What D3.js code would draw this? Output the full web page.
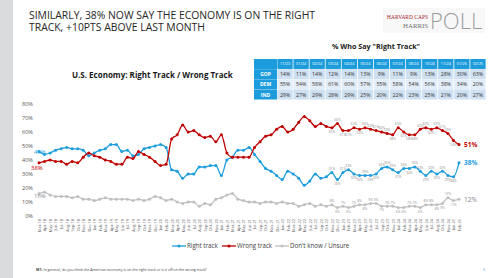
<!DOCTYPE html>
<html>
<head>
<meta charset="utf-8">
<script src="https://cdn.jsdelivr.net/npm/d3@7"></script>
<style>
  body { margin: 0; background: #fff; }
  svg { display: block; font-family: "Open Sans", sans-serif; }
</style>
</head>
<body>
<div class="chart"></div>
<script>
// months polled (some months skipped)
const months = [
  'Mar-18','Apr-18','May-18','Jun-18','Jul-18','Aug-18','Sep-18','Oct-18','Nov-18','Dec-18',
  'Jan-19','Feb-19','Mar-19','Apr-19','May-19','Jun-19','Jul-19','Aug-19','Sep-19','Oct-19','Nov-19','Dec-19',
  'Jan-20','Feb-20','Mar-20','Apr-20','May-20','Jun-20','Jul-20','Aug-20','Sep-20','Oct-20','Nov-20',
  'Jan-21','Feb-21','Mar-21','Apr-21','May-21','Jun-21','Jul-21','Sep-21','Oct-21','Nov-21','Dec-21',
  'Jan-22','Feb-22','Mar-22','Apr-22','May-22','Jun-22','Jul-22','Sep-22','Oct-22','Nov-22','Dec-22',
  'Jan-23','Feb-23','Mar-23','Apr-23','May-23','Jun-23','Jul-23','Sep-23','Oct-23','Nov-23',
  'Jan-24','Feb-24','Mar-24','Apr-24','May-24','Jun-24','Jul-24','Aug-24','Oct-24','Nov-24',
  'Jan-25','Feb-25'
];
const rightTrack = [
  46,44,45,47,48,49,48,48,47,43,
  45,47,48,51,51,46,47,43,44,48,49,50,
  51,49,33,32,27,30,30,35,35,36,36,
  29,40,42,47,47,49,44,39,34,32,29,
  26,32,30,27,22,25,30,27,28,31,26,
  31,33,30,29,29,29,30,34,35,33,
  31,34,34,35,32,29,32,30,32,29,
  28,38
];
const wrongTrack = [
  38,39,40,39,39,37,39,38,42,45,
  43,42,40,39,37,37,42,41,46,44,42,39,
  36,37,55,58,65,60,61,58,56,57,53,
  58,45,42,42,42,42,49,53,57,58,62,
  64,60,62,67,71,68,64,66,64,63,66,
  61,61,63,62,63,62,61,60,59,58,
  63,60,58,58,62,63,62,63,61,59,
  54,51
];
const unsure = [
  16,17,15,14,14,14,13,14,12,12,
  11,12,13,12,12,12,12,11,12,11,12,14,
  13,11,12,10,9,10,10,7,9,8,12,
  13,15,16,12,11,10,10,9,10,10,9,
  10,9,9,7,8,9,7,8,7,8,6,
  7,6,7,8,8,9,9,7,7,7,
  6,6,7,7,6,8,8,8,9,13,
  11,12
];
const yTicks = [0, 10, 20, 30, 40, 50, 60, 70, 80];

// table data
const tableCols = ['11/23','01/24','02/24','03/24','04/24','05/24','06/24','07/24','08/24','10/24','11/24','01/25','02/25'];
const tableRows = ['GOP', 'DEM', 'IND'];
const gopVals = [14, 11, 14, 12, 14, 13, 9, 11, 9, 13, 28, 30, 63];
const demVals = [55, 54, 58, 61, 60, 57, 55, 58, 54, 56, 38, 34, 20];
const indVals = [29, 27, 29, 28, 29, 25, 20, 22, 23, 25, 21, 20, 27];

const width = 495, height = 278;
const blue = '#1c9cdc', red = '#c00000', grey = '#bfbfbf';

let svg = d3.select('.chart')
    .append('svg')
    .attr('width', width)
    .attr('height', height);

// left sidebar
svg.append('rect').attr('x', 0).attr('y', 0).attr('width', 13).attr('height', height).attr('fill', '#dadbdc');

// title
let title = svg.append('text')
    .attr('x', 29).attr('y', 19)
    .attr('font-size', 10.4)
    .attr('fill', '#262626');
title.append('tspan').attr('x', 29).attr('dy', 0).text('SIMILARLY, 38% NOW SAY THE ECONOMY IS ON THE RIGHT');
title.append('tspan').attr('x', 29).attr('dy', 12.3).text('TRACK, +10PTS ABOVE LAST MONTH');

// logo
let logo = svg.append('g');
logo.append('rect').attr('x', 383).attr('y', 8).attr('width', 102).attr('height', 25).attr('fill', '#f8f8f8');
logo.append('text').attr('x', 387).attr('y', 18.5)
    .attr('font-family', 'Liberation Serif, serif').attr('font-size', 5.4)
    .attr('textLength', 41).attr('fill', '#a6192e').text('HARVARD CAPS');
logo.append('text').attr('x', 428).attr('y', 27.5).attr('text-anchor', 'end')
    .attr('font-family', 'Liberation Serif, serif').attr('font-size', 6.8)
    .attr('fill', '#6d6e71').text('HARRIS');
logo.append('text').attr('x', 430).attr('y', 29)
    .attr('font-size', 22).attr('font-weight', 300)
    .attr('fill', '#9a9b9d').text('POLL');

// table
svg.append('text')
    .attr('x', 376).attr('y', 49)
    .attr('text-anchor', 'middle')
    .attr('font-size', 7.2).attr('font-weight', 'bold')
    .attr('fill', '#1a1a1a')
    .text('% Who Say "Right Track"');

let colW = (486 - 277) / tableCols.length;
let colX = i => 277 + i * colW;
let ty = d3.scaleBand().domain(['head', ...tableRows]).range([59, 99.5]).paddingInner(0.02);
let rowData = { GOP: gopVals, DEM: demVals, IND: indVals };

let table = svg.append('g');
// header
table.append('rect').attr('x', 254).attr('y', ty('head')).attr('width', 23).attr('height', ty.bandwidth()).attr('fill', blue);
tableCols.forEach((c, i) => {
    table.append('rect').attr('x', colX(i) + 0.4).attr('y', ty('head'))
        .attr('width', colW - 0.8).attr('height', ty.bandwidth()).attr('fill', blue);
    table.append('text').attr('x', colX(i) + colW / 2).attr('y', ty('head') + ty.bandwidth() / 2 + 1.5)
        .attr('text-anchor', 'middle').attr('font-size', 3.8).attr('fill', '#fff').text(c);
});
tableRows.forEach((r, ri) => {
    table.append('rect').attr('x', 254).attr('y', ty(r)).attr('width', 23).attr('height', ty.bandwidth()).attr('fill', blue);
    table.append('text').attr('x', 265.5).attr('y', ty(r) + ty.bandwidth() / 2 + 2)
        .attr('text-anchor', 'middle').attr('font-size', 5).attr('font-weight', 'bold')
        .attr('fill', '#fff').text(r);
    rowData[r].forEach((v, i) => {
        table.append('rect').attr('x', colX(i) + 0.4).attr('y', ty(r))
            .attr('width', colW - 0.8).attr('height', ty.bandwidth())
            .attr('fill', ri % 2 === 0 ? '#cfe0f1' : '#e3edf7');
        table.append('text').attr('x', colX(i) + colW / 2).attr('y', ty(r) + ty.bandwidth() / 2 + 2)
            .attr('text-anchor', 'middle').attr('font-size', 5.2).attr('fill', '#333').text(v + '%');
    });
});

// chart subtitle
svg.append('text')
    .attr('x', 72).attr('y', 78)
    .attr('font-size', 8).attr('font-weight', 'bold')
    .attr('fill', '#1a1a1a')
    .text('U.S. Economy: Right Track / Wrong Track');

// scales
let x_scale = d3.scalePoint().domain(months).range([39, 459]);
let y_scale = d3.scaleLinear().domain([0, 80]).range([216, 104]);

let y_Axis = d3.axisLeft(y_scale).tickValues(yTicks).tickFormat(d => d + '%').tickSize(0).tickPadding(0);
let yg = svg.append('g').attr('transform', 'translate(33,0)').call(y_Axis);
yg.select('.domain').remove();
yg.selectAll('text').attr('font-size', 5.6).attr('fill', '#595959').attr('font-family', 'Open Sans, sans-serif');

let x_Axis = d3.axisBottom(x_scale).tickSize(0).tickPadding(0);
let xg = svg.append('g').attr('transform', 'translate(0,218)').call(x_Axis);
xg.select('.domain').remove();
xg.selectAll('text')
    .attr('font-size', 3.9)
    .attr('fill', '#595959')
    .attr('font-family', 'Open Sans, sans-serif')
    .attr('text-anchor', 'end')
    .attr('dy', '0.35em')
    .attr('transform', 'rotate(-90)')
    .attr('x', -1).attr('y', 0);

// series
let series = [
    { key: 'Right track', values: rightTrack, color: blue },
    { key: 'Wrong track', values: wrongTrack, color: red },
    { key: "Don't know / Unsure", values: unsure, color: grey }
];
let line = d3.line()
    .x((d, i) => x_scale(months[i]))
    .y(d => y_scale(d))
    .curve(d3.curveMonotoneX);

series.forEach(s => {
    let g = svg.append('g');
    g.append('path').attr('d', line(s.values))
        .attr('fill', 'none').attr('stroke', s.color).attr('stroke-width', 1.3);
    g.selectAll('circle').data(s.values).join('circle')
        .attr('cx', (d, i) => x_scale(months[i]))
        .attr('cy', d => y_scale(d))
        .attr('r', 1.5)
        .attr('fill', s.color);
});

// start labels
svg.append('text').attr('x', 34).attr('y', y_scale(rightTrack[0]) + 2).attr('font-size', 6)
    .attr('fill', blue).text(rightTrack[0] + '%');
svg.append('text').attr('x', 31).attr('y', y_scale(wrongTrack[0]) + 7.5).attr('font-size', 6)
    .attr('fill', red).text(wrongTrack[0] + '%');
svg.append('text').attr('x', 34).attr('y', y_scale(unsure[0]) + 4).attr('font-size', 6)
    .attr('fill', '#8c8c8c').text(unsure[0] + '%');

// end labels
let last = months.length - 1;
let endX = x_scale(months[last]) + 5;
svg.append('text').attr('x', endX).attr('y', y_scale(wrongTrack[last]) + 2.5).attr('font-size', 6.5)
    .attr('font-weight', 'bold').attr('fill', red).text(wrongTrack[last] + '%');
svg.append('text').attr('x', endX).attr('y', y_scale(rightTrack[last]) + 2.5).attr('font-size', 6.5)
    .attr('font-weight', 'bold').attr('fill', blue).text(rightTrack[last] + '%');
svg.append('text').attr('x', endX).attr('y', y_scale(unsure[last]) + 2.5).attr('font-size', 6.5)
    .attr('fill', '#7f7f7f').text(unsure[last] + '%');

// small point labels over the last two years
let labelFrom = 53;
series.forEach(s => {
    for (let i = labelFrom; i < last; i++) {
        let v = s.values[i];
        let nb = (s.values[i - 1] + s.values[i + 1]) / 2;
        let above = v >= nb;
        svg.append('text')
            .attr('x', x_scale(months[i]))
            .attr('y', y_scale(v) + (above ? -2.6 : 5.2))
            .attr('text-anchor', 'middle')
            .attr('font-size', 3.2)
            .attr('fill', '#8c8c8c')
            .text(v + '%');
    }
});

// legend
let legend = svg.append('g').attr('transform', 'translate(0,246)');
let legX = [172, 222, 275];
series.forEach((s, i) => {
    let g = legend.append('g').attr('transform', `translate(${legX[i]},0)`);
    g.append('line').attr('x1', 0).attr('x2', 14).attr('y1', 0).attr('y2', 0)
        .attr('stroke', s.color).attr('stroke-width', 1.3);
    g.append('circle').attr('cx', 7).attr('cy', 0).attr('r', 1.5).attr('fill', s.color);
    g.append('text').attr('x', 15).attr('y', 2.2).attr('font-size', 6.2)
        .attr('fill', '#404040').text(s.key);
});

// footnote
let foot = svg.append('text').attr('x', 36).attr('y', 271).attr('font-size', 3.6).attr('fill', '#404040');
foot.append('tspan').attr('font-weight', 'bold').text('M1: ');
foot.append('tspan').text('In general, do you think the American economy is on the right track or is it off on the wrong track?');
svg.append('text').attr('x', 483).attr('y', 271).attr('font-size', 3.8).attr('fill', '#1c9cdc').text('5');
</script>
</body>
</html>
